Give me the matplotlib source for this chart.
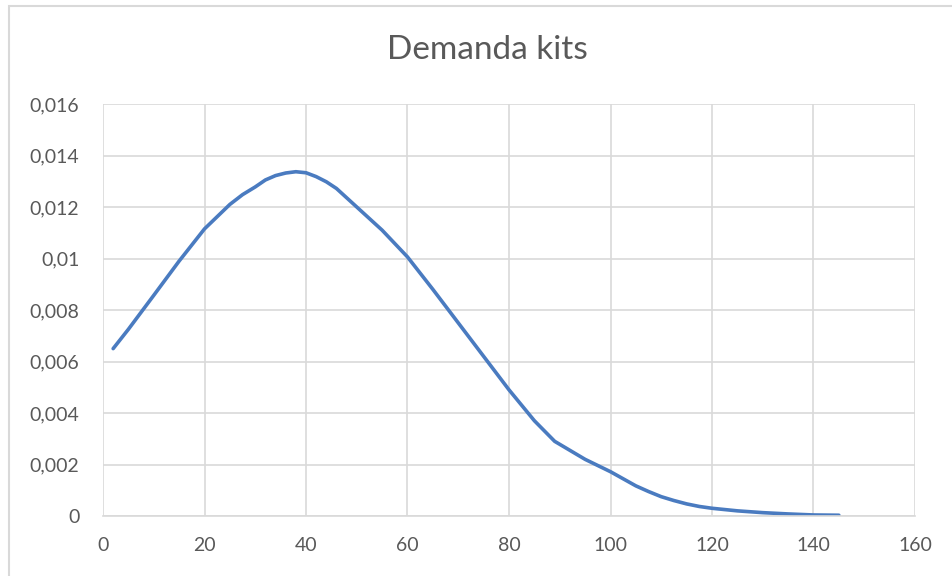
import matplotlib.pyplot as plt
from matplotlib.patches import Rectangle
from matplotlib.ticker import FuncFormatter

# Demand curve
kits = [2, 5, 10, 15, 20, 25, 27.5, 30, 32, 34, 36, 38, 40, 42, 44, 46, 50,
        55, 60, 65, 70, 75, 80, 85, 89, 95, 100, 105, 107.5, 110, 112.5,
        115, 117.5, 120, 125, 130, 135, 140, 145]
prob = [0.0065, 0.00725, 0.00857, 0.0099, 0.01115, 0.0121, 0.01248,
        0.01278, 0.01305, 0.01322, 0.01332, 0.01337, 0.01333, 0.01318,
        0.01298, 0.01272, 0.0120, 0.0111, 0.01006, 0.0088, 0.0075, 0.0062,
        0.0049, 0.0037, 0.0029, 0.0022, 0.00172, 0.00117, 0.00095, 0.00075,
        0.0006, 0.00047, 0.00037, 0.0003, 0.0002, 0.00013, 0.00008,
        0.00004, 0.00003]

x_ticks = list(range(0, 161, 20))
y_ticks = [0, 0.002, 0.004, 0.006, 0.008, 0.01, 0.012, 0.014, 0.016]

plt.rcParams['font.family'] = ['Lato', 'DejaVu Sans']

grey_text = '#595959'
grid_col = '#D9D9D9'

fig = plt.figure(figsize=(9.52, 5.76), dpi=100)
ax = fig.add_axes([103 / 952, 1 - 516 / 576, 812 / 952, 412 / 576])

ax.plot(kits, prob, color='#4A7BC0', linewidth=2.6,
        solid_capstyle='round', solid_joinstyle='round')

ax.set_xlim(0, 160)
ax.set_ylim(0, 0.016)
ax.set_xticks(x_ticks)
ax.set_yticks(y_ticks)


def comma_fmt(v, pos):
    if v == 0:
        return '0'
    s = ('%.3f' % v).rstrip('0')
    return s.replace('.', ',')


ax.yaxis.set_major_formatter(FuncFormatter(comma_fmt))
ax.xaxis.set_major_formatter(FuncFormatter(lambda v, p: '%d' % v))

ax.grid(True, color=grid_col, linewidth=1.2)
ax.set_axisbelow(True)
for side in ['top', 'right', 'left']:
    ax.spines[side].set_visible(False)
ax.spines['bottom'].set_color(grid_col)
ax.spines['bottom'].set_linewidth(1.2)
ax.tick_params(length=0, labelsize=14, colors=grey_text)
ax.tick_params(axis='x', pad=15)
ax.tick_params(axis='y', pad=17)

fig.text(487 / 952, 1 - 50 / 576, 'Demanda kits', ha='center', va='center',
         fontsize=24, color=grey_text)

# Chart area border (cut off on the right and bottom in the reference)
fig.patches.append(Rectangle((9 / 952, -0.1), 1.2, 1.1 - 6 / 576,
                             transform=fig.transFigure, fill=False,
                             edgecolor=grid_col, linewidth=1.5))

fig.savefig('out.png', dpi=100)
